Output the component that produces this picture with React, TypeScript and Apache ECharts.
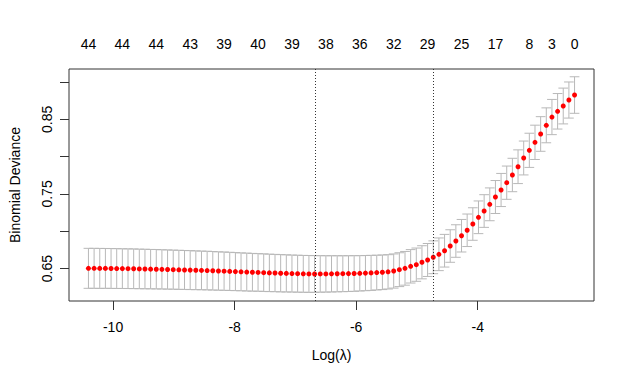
import React, { useEffect, useRef } from "react";
import * as echarts from "echarts";

// log(lambda) grid of the cv.glmnet fit
const logLambda = [
  -10.405, -10.312, -10.219, -10.126, -10.033, -9.94, -9.847, -9.754, -9.661, -9.568,
  -9.475, -9.382, -9.289, -9.196, -9.103, -9.01, -8.917, -8.824, -8.731, -8.638,
  -8.545, -8.452, -8.359, -8.266, -8.173, -8.08, -7.987, -7.894, -7.8, -7.707,
  -7.614, -7.521, -7.428, -7.335, -7.242, -7.149, -7.056, -6.963, -6.87, -6.777,
  -6.684, -6.591, -6.498, -6.405, -6.312, -6.219, -6.126, -6.033, -5.94, -5.847,
  -5.754, -5.661, -5.568, -5.475, -5.382, -5.289, -5.196, -5.103, -5.01, -4.917,
  -4.824, -4.731, -4.638, -4.545, -4.452, -4.359, -4.266, -4.173, -4.08, -3.987,
  -3.894, -3.801, -3.708, -3.615, -3.522, -3.429, -3.336, -3.243, -3.15, -3.057,
  -2.964, -2.871, -2.778, -2.685, -2.592, -2.499, -2.406,
];

// mean cross-validated binomial deviance
const cvMean = [
  0.6503, 0.6503, 0.6502, 0.6502, 0.6501, 0.65, 0.6499, 0.6498, 0.6497, 0.6495,
  0.6494, 0.6492, 0.6491, 0.6489, 0.6487, 0.6485, 0.6483, 0.6481, 0.6479, 0.6477,
  0.6475, 0.6473, 0.647, 0.6467, 0.6465, 0.6462, 0.6459, 0.6456, 0.6453, 0.645,
  0.6448, 0.6445, 0.6442, 0.644, 0.6437, 0.6435, 0.6433, 0.6431, 0.6429, 0.6428,
  0.6427, 0.6428, 0.6428, 0.6429, 0.643, 0.6431, 0.6432, 0.6434, 0.6436, 0.6439,
  0.6442, 0.6446, 0.645, 0.6456, 0.6467, 0.6485, 0.6503, 0.653, 0.6552, 0.6584,
  0.6615, 0.6651, 0.6691, 0.6739, 0.6802, 0.6869, 0.694, 0.7013, 0.7097, 0.7187,
  0.7271, 0.7361, 0.7459, 0.7553, 0.7651, 0.7754, 0.7865, 0.7982, 0.8085, 0.8192,
  0.8304, 0.842, 0.8531, 0.8608, 0.8679, 0.8759, 0.8826,
];

// standard error of the CV deviance
const cvSE = [
  0.0268, 0.0268, 0.0268, 0.0267, 0.0267, 0.0267, 0.0266, 0.0266, 0.0266, 0.0265,
  0.0265, 0.0264, 0.0264, 0.0263, 0.0263, 0.0262, 0.0262, 0.0261, 0.0261, 0.026,
  0.0259, 0.0259, 0.0258, 0.0257, 0.0257, 0.0256, 0.0255, 0.0254, 0.0254, 0.0253,
  0.0252, 0.0252, 0.0251, 0.025, 0.025, 0.0249, 0.0248, 0.0248, 0.0247, 0.0247,
  0.0246, 0.0245, 0.0244, 0.0243, 0.0242, 0.0241, 0.024, 0.0239, 0.0237, 0.0236,
  0.0235, 0.0233, 0.0232, 0.023, 0.0229, 0.0227, 0.0226, 0.0224, 0.0223, 0.0222,
  0.0221, 0.022, 0.0219, 0.0219, 0.0218, 0.0218, 0.0218, 0.0218, 0.0218, 0.0219,
  0.0219, 0.022, 0.0221, 0.0222, 0.0223, 0.0224, 0.0226, 0.0227, 0.0229, 0.023,
  0.0232, 0.0234, 0.0236, 0.0238, 0.024, 0.0242, 0.0245,
];

// number of non-zero coefficients shown on the top axis, and where
const topLabelIndex = [0, 6, 12, 18, 24, 30, 36, 42, 48, 54, 60, 66, 72, 78, 82, 86];
const topLabels = ["44", "44", "44", "43", "39", "40", "39", "38", "36", "32", "29", "25", "17", "8", "3", "0"];

const logLambdaMin = -6.684;
const logLambda1se = -4.731;

const xTicks = [-10, -8, -6, -4];
const yTicks = [0.65, 0.7, 0.75, 0.8, 0.85, 0.9];
const yTickLabels = [0.65, 0.75, 0.85];

const xLim = [-10.725, -2.086];
const yLim = [0.6065, 0.9175];
const capHalfWidth = 0.08;

const FONT = "'Liberation Sans', Arial, sans-serif";

export default function App() {
  const ref = useRef<HTMLDivElement>(null);

  useEffect(() => {
    if (!ref.current) return;
    const chart = echarts.init(ref.current, undefined, { renderer: "svg" });

    const barData = logLambda.map((x, i) => [x, cvMean[i] - cvSE[i], cvMean[i] + cvSE[i]]);
    const pointData = logLambda.map((x, i) => [x, cvMean[i]]);
    const topValues = topLabelIndex.map((i) => logLambda[i]);
    const topMap = new Map<number, string>();
    topValues.forEach((v, k) => topMap.set(v, topLabels[k]));

    const barColor = "#b8b8b8";

    chart.setOption({
      animation: false,
      backgroundColor: "#ffffff",
      textStyle: { fontFamily: FONT },
      grid: {
        left: 67,
        right: 30,
        top: 69,
        bottom: 78,
        show: true,
        borderColor: "#333333",
        borderWidth: 1,
        backgroundColor: "transparent",
      },
      xAxis: [
        {
          type: "value",
          min: xLim[0],
          max: xLim[1],
          position: "bottom",
          name: "Log(λ)",
          nameLocation: "middle",
          nameGap: 47,
          nameTextStyle: { fontSize: 14, color: "#000", fontFamily: FONT },
          axisLine: { show: false },
          splitLine: { show: false },
          axisTick: {
            show: true,
            customValues: xTicks,
            length: 9,
            lineStyle: { color: "#333333", width: 1 },
          },
          axisLabel: {
            customValues: xTicks,
            margin: 19,
            fontSize: 14,
            color: "#000",
            fontFamily: FONT,
            formatter: (v: number) => String(v),
          },
        },
        {
          type: "value",
          min: xLim[0],
          max: xLim[1],
          position: "top",
          axisLine: { show: false },
          splitLine: { show: false },
          axisTick: { show: false },
          axisLabel: {
            customValues: topValues,
            margin: 18,
            fontSize: 14,
            color: "#000",
            fontFamily: FONT,
            formatter: (v: number) => topMap.get(v) ?? "",
          },
        },
      ],
      yAxis: {
        type: "value",
        min: yLim[0],
        max: yLim[1],
        name: "Binomial Deviance",
        nameLocation: "middle",
        nameRotate: 90,
        nameGap: 47,
        nameTextStyle: { fontSize: 14, color: "#000", fontFamily: FONT },
        axisLine: { show: false },
        splitLine: { show: false },
        axisTick: {
          show: true,
          customValues: yTicks,
          length: 9,
          lineStyle: { color: "#333333", width: 1 },
        },
        axisLabel: {
          customValues: yTickLabels,
          rotate: 90,
          margin: 15,
          fontSize: 14,
          color: "#000",
          fontFamily: FONT,
          formatter: (v: number) => v.toFixed(2),
        },
      },
      series: [
        {
          type: "custom",
          xAxisIndex: 0,
          data: barData,
          encode: { x: 0, y: [1, 2] },
          silent: true,
          z: 2,
          renderItem: (params: any, api: any) => {
            const x = api.value(0);
            const lo = api.value(1);
            const hi = api.value(2);
            const pLo = api.coord([x, lo]);
            const pHi = api.coord([x, hi]);
            const w = api.size([capHalfWidth, 0])[0];
            const style = { stroke: barColor, lineWidth: 1, fill: null };
            return {
              type: "group",
              children: [
                { type: "line", shape: { x1: pLo[0], y1: pLo[1], x2: pHi[0], y2: pHi[1] }, style },
                { type: "line", shape: { x1: pHi[0] - w, y1: pHi[1], x2: pHi[0] + w, y2: pHi[1] }, style },
                { type: "line", shape: { x1: pLo[0] - w, y1: pLo[1], x2: pLo[0] + w, y2: pLo[1] }, style },
              ],
            };
          },
        },
        {
          type: "scatter",
          xAxisIndex: 0,
          data: pointData,
          symbol: "circle",
          symbolSize: 5,
          itemStyle: { color: "#ff0000", opacity: 1 },
          silent: true,
          z: 3,
          markLine: {
            silent: true,
            symbol: ["none", "none"],
            label: { show: false },
            lineStyle: { color: "#333333", width: 1, type: [1, 2] },
            data: [{ xAxis: logLambdaMin }, { xAxis: logLambda1se }],
          },
        },
      ],
    });

    return () => chart.dispose();
  }, []);

  return (
    <div
      ref={ref}
      style={{ position: "absolute", left: 0, top: 0, width: 624, height: 379, background: "#fff" }}
    />
  );
}
